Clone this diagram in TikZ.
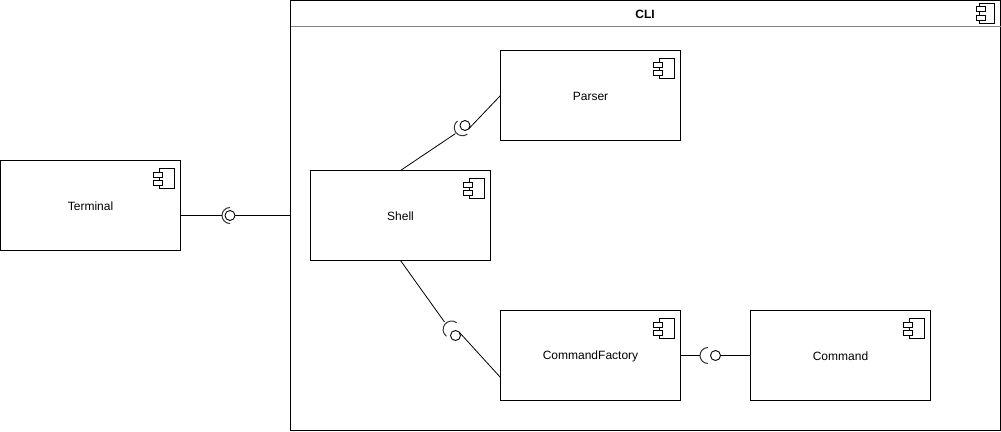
\documentclass[tikz,border=0pt]{standalone}
\usepackage{fontspec}
\setmainfont{Liberation Sans}
\tikzset{
  x=1pt,y=-1pt,
  every node/.style={font=\fontsize{12}{14}\selectfont},
  comp/.style={draw=black,line width=1pt,minimum width=180pt,minimum height=90pt,inner sep=0pt,outer sep=0pt,fill=white},
  ball/.style={draw=black,line width=0.9pt,circle,minimum size=10pt,inner sep=0pt,outer sep=0pt},
  wire/.style={draw=black,line width=1pt},
  slant/.style={draw=black,line width=0.8pt},
  socket/.style={draw=black!80,line width=1pt},
}
\newcommand{\compicon}[1]{%
  \draw[line width=1pt,fill=white] ([shift={(-21,8)}]#1.north east) rectangle ([shift={(-6.5,27.5)}]#1.north east);
  \draw[line width=1pt,fill=white] ([shift={(-27,11.5)}]#1.north east) rectangle ([shift={(-18,16.5)}]#1.north east);
  \draw[line width=1pt,fill=white] ([shift={(-27,19.5)}]#1.north east) rectangle ([shift={(-18,24.5)}]#1.north east);
}
\begin{document}
\begin{tikzpicture}
\useasboundingbox (0,0) rectangle (1001,431);
\fill[white] (0,0) rectangle (1001,431);
% CLI container
\node[comp,minimum width=710pt,minimum height=430pt,anchor=north west] (cli) at (290.5,0.5) {};
\coordinate (hl) at (290.5,26.5);
\coordinate (hr) at (1000.5,26.5);
\draw[line width=1pt,black!50] (hl) -- (hr);
\node[font=\fontsize{12}{14}\selectfont\bfseries] (clititle) at (645,14) {CLI};
% components
\node[comp] (terminal) at (90.5,205.5) {};
\node[comp] (shell) at (400.5,215.5) {};
\node[comp] (parser) at (590.5,95.5) {};
\node[comp] (factory) at (590.5,355.5) {};
\node[comp] (command) at (840.5,355.5) {};
\node (terminaltext) at (90.5,206.5) {Terminal};
\node (shelltext) at (400.5,216.5) {Shell};
\node (parsertext) at (590.5,96.5) {Parser};
\node (factorytext) at (590.5,356.5) {CommandFactory};
\node (commandtext) at (840.5,356.5) {Command};
\compicon{terminal}
\compicon{shell}
\compicon{parser}
\compicon{factory}
\compicon{command}
% CLI icon
\draw[line width=1pt,fill=white] (979.5,3.5) rectangle (994.5,23.5);
\draw[line width=1pt,fill=white] (976,6.5) rectangle (985,11.5);
\draw[line width=1pt,fill=white] (976,15.5) rectangle (985,20.5);
% balls
\node[ball] (b1) at (230,215.5) {};
\node[ball] (b2) at (465,125.5) {};
\node[ball] (b3) at (455.5,335.5) {};
\node[ball] (b4) at (715.5,355.5) {};
% sockets
\coordinate (s1) at (222,215.5);
\coordinate (s2) at (455.4,133.6);
\coordinate (s3) at (444.5,322);
\coordinate (s4) at (700,355.5);
\coordinate (fw) at (500.5,377.5);
\draw[socket] (230,207.5) arc[start angle=-90,end angle=-270,radius=8];
\draw[socket] (457.5,121) arc[start angle=-127,end angle=-307,radius=8.2];
\draw[socket] (456.7,322.7) arc[start angle=-53,end angle=-233,radius=8.5];
\draw[socket] (708,347.5) arc[start angle=-90,end angle=-270,radius=8];
% connectors
\draw[wire] (terminal.east |- s1) -- (s1);
\draw[wire] (b1.east) -- (cli.west |- b1);
\draw[slant] (shell.north) -- (s2);
\draw[slant] (b2.-40) -- (parser.west);
\draw[slant] (shell.south) -- (s3);
\draw[slant] (b3.40) -- (fw);
\draw[wire] (factory.east) -- (s4);
\draw[wire] (b4.east) -- (command.west);
\end{tikzpicture}
\end{document}
